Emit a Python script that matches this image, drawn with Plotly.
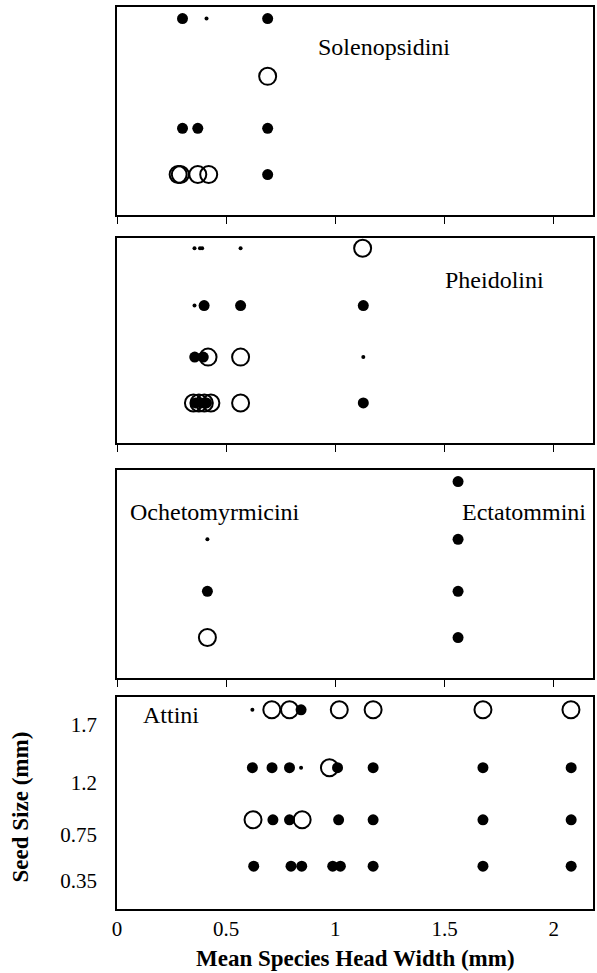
import plotly.graph_objects as go

# ---------------- data ----------------
# kind: 'f' = filled dot, 't' = tiny dot, 'o' = open circle
sol_x = [0.30, 0.41, 0.69, 0.69, 0.30, 0.37, 0.69, 0.28, 0.29, 0.37, 0.42, 0.69]
sol_y = [1.7, 1.7, 1.7, 1.2, 0.75, 0.75, 0.75, 0.35, 0.35, 0.35, 0.35, 0.35]
sol_k = ['f', 't', 'f', 'o', 'f', 'f', 'f', 'o', 'o', 'o', 'o', 'f']

phe_x = [0.355, 0.38, 0.39, 0.566, 1.125,
         0.355, 0.399, 0.566, 1.128,
         0.356, 0.395, 0.417, 0.566, 1.128,
         0.35, 0.375, 0.40, 0.43, 0.36, 0.385, 0.41, 0.566, 1.128]
phe_y = [1.7, 1.7, 1.7, 1.7, 1.7,
         1.2, 1.2, 1.2, 1.2,
         0.75, 0.75, 0.75, 0.75, 0.75,
         0.35, 0.35, 0.35, 0.35, 0.35, 0.35, 0.35, 0.35, 0.35]
phe_k = ['t', 't', 't', 't', 'o',
         't', 'f', 'f', 'f',
         'f', 'f', 'o', 'o', 't',
         'o', 'o', 'o', 'o', 'f', 'f', 'f', 'o', 'f']

och_x = [0.414, 0.414, 0.414]
och_y = [1.2, 0.75, 0.35]
och_k = ['t', 'f', 'o']

ect_x = [1.562, 1.562, 1.562, 1.562]
ect_y = [1.7, 1.2, 0.75, 0.35]
ect_k = ['f', 'f', 'f', 'f']

att_x = [0.62, 0.709, 0.79, 0.843, 1.018, 1.173, 1.676, 2.079,
         0.62, 0.71, 0.79, 0.843, 0.973, 1.01, 1.173, 1.676, 2.08,
         0.623, 0.714, 0.79, 0.848, 1.015, 1.173, 1.676, 2.08,
         0.626, 0.797, 0.846, 0.988, 1.023, 1.173, 1.676, 2.08]
att_y = [1.7] * 8 + [1.2] * 9 + [0.75] * 8 + [0.35] * 8
att_k = ['t', 'o', 'o', 'f', 'o', 'o', 'o', 'o',
         'f', 'f', 'f', 't', 'o', 'f', 'f', 'f', 'f',
         'o', 'f', 'f', 'o', 'f', 'f', 'f', 'f',
         'f', 'f', 'f', 'f', 'f', 'f', 'f', 'f']

seed_ticks = [0.35, 0.75, 1.2, 1.7]
seed_tick_text = ['0.35', '0.75', '1.2', '1.7']
head_ticks = [0, 0.5, 1, 1.5, 2]
head_tick_text = ['0', '0.5', '1', '1.5', '2']

panels = [
    [(sol_x, sol_y, sol_k)],
    [(phe_x, phe_y, phe_k)],
    [(och_x, och_y, och_k), (ect_x, ect_y, ect_k)],
    [(att_x, att_y, att_k)],
]
labels = [
    ('Solenopsidini', 1.224, 1.45, 0),
    ('Pheidolini', 1.728, 1.42, 1),
    ('Ochetomyrmicini', 0.447, 1.437, 2),
    ('Ectatommini', 1.863, 1.437, 2),
    ('Attini', 0.247, 1.655, 3),
]

# ---------------- layout ----------------
W, H = 597, 973
ML, MR, MT, MB = 117, 2, 7, 64
domains = [(0.7694, 1.0), (0.5166, 0.7439), (0.2561, 0.4867), (0.0, 0.2350)]
yranges = [(0.0, 1.8), (0.0, 1.79), (0.0, 1.8), (-0.02, 1.81)]
XR = (0.0, 2.18)
FONT = "Liberation Serif"

style = {
    'o': dict(symbol='circle-open', size=17, color='black', line=dict(width=2, color='black')),
    'f': dict(symbol='circle', size=11, color='black', line=dict(width=0)),
    't': dict(symbol='circle', size=4, color='black', line=dict(width=0)),
}

fig = go.Figure()
for i, groups in enumerate(panels):
    sfx = '' if i == 0 else str(i + 1)
    for kind in ['o', 'f', 't']:
        xs, ys = [], []
        for gx, gy, gk in groups:
            for x, y, k in zip(gx, gy, gk):
                if k == kind:
                    xs.append(x)
                    ys.append(y)
        if xs:
            fig.add_trace(go.Scatter(x=xs, y=ys, mode='markers', marker=style[kind],
                                     xaxis='x' + sfx, yaxis='y' + sfx,
                                     showlegend=False, hoverinfo='skip'))

for i in range(4):
    sfx = '' if i == 0 else str(i + 1)
    last = (i == 3)
    xa = dict(domain=[0, 1], range=list(XR), anchor='y' + sfx,
              showline=True, linecolor='black', linewidth=1.5, mirror=True,
              showgrid=False, zeroline=False,
              tickvals=head_ticks, ticktext=head_tick_text,
              showticklabels=last,
              ticks='' if last else 'outside', ticklen=7, tickwidth=1, tickcolor='black',
              tickfont=dict(family=FONT, size=21, color='black'),
              ticklabelstandoff=0)
    ya = dict(domain=list(domains[i]), range=list(yranges[i]), anchor='x' + sfx,
              showline=True, linecolor='black', linewidth=1.5, mirror=True,
              showgrid=False, zeroline=False,
              tickvals=seed_ticks, ticktext=seed_tick_text,
              showticklabels=last, ticks='',
              tickfont=dict(family=FONT, size=21, color='black'),
              ticklabelposition='outside bottom', ticklabelstandoff=14)
    fig.update_layout(**{'xaxis' + sfx: xa, 'yaxis' + sfx: ya})

anns = []
for text, x, y, p in labels:
    sfx = '' if p == 0 else str(p + 1)
    anns.append(dict(text=text, x=x, y=y, xref='x' + sfx, yref='y' + sfx,
                     showarrow=False, xanchor='center', yanchor='middle',
                     font=dict(family=FONT, size=24, color='black')))
anns.append(dict(text='<b>Mean Species Head Width (mm)</b>', x=0.5, y=-0.055,
                 xref='paper', yref='paper', showarrow=False,
                 xanchor='center', yanchor='middle',
                 font=dict(family=FONT, size=23, color='black')))
anns.append(dict(text='<b>Seed Size (mm)</b>', x=-0.203, y=0.113, textangle=-90,
                 xref='paper', yref='paper', showarrow=False,
                 xanchor='center', yanchor='middle',
                 font=dict(family=FONT, size=23, color='black')))

fig.update_layout(width=W, height=H, margin=dict(l=ML, r=MR, t=MT, b=MB),
                  paper_bgcolor='white', plot_bgcolor='white',
                  annotations=anns, showlegend=False)

fig.write_html("out.html")
